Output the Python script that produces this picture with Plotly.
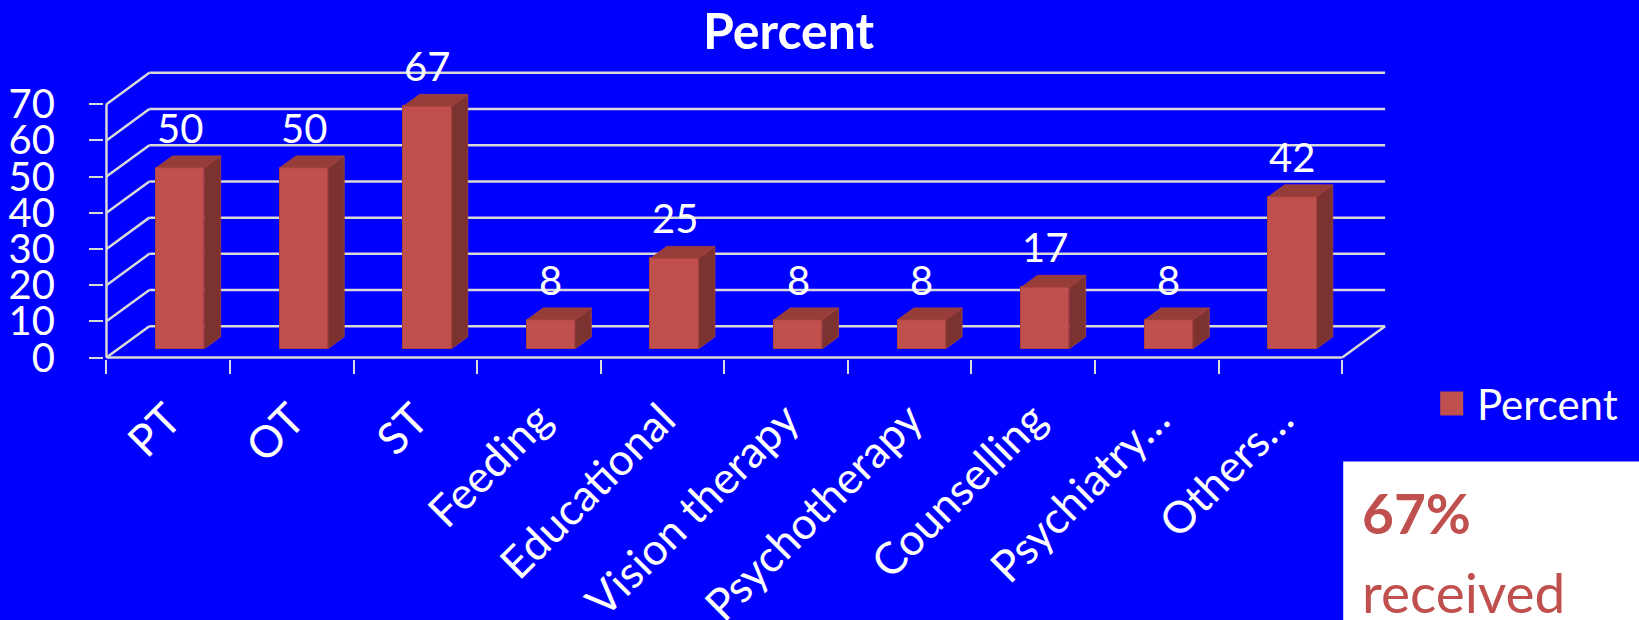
import plotly.graph_objects as go

# ---- data -------------------------------------------------------------
categories = ["PT", "OT", "ST", "Feeding", "Educational", "Vision therapy",
              "Psychotherapy", "Counselling", "Psychiatry…", "Others…"]
values = [50, 50, 67, 8, 25, 8, 8, 17, 8, 42]
y_ticks = [0, 10, 20, 30, 40, 50, 60, 70]
series_name = "Percent"
note_value = "67%"
note_text = "received"

# ---- look -------------------------------------------------------------
FONT = "Lato"
BG = "#0000FF"
GRID = "#D9D9D9"
FRONT = "#C0504D"
SIDE = "#7C3330"
TOP = "#963D3A"
EDGE = "#A8423F"

# oblique projection of the depth axis (category units / value units)
KX = 0.347
KY = 8.66
D0 = 0.28      # depth where the bar front faces sit
DD = 0.38      # bar depth
BAR_W = 0.39

W, H = 1639, 620
SX, SY = 123.6, 3.625          # pixels per category / per value unit
X0_PX, Y0_PX = 106, 358        # pixel position of data origin
XR = [-0.02, 10.5]
YR = [-0.4, 80]
ml = X0_PX + XR[0] * SX
pw = (XR[1] - XR[0]) * SX
mr = W - ml - pw
mt = Y0_PX - YR[1] * SY
mb = H - Y0_PX + YR[0] * SY
ph = H - mt - mb


def px_x(px):
    return (px - ml) / pw


def px_y(py):
    return (H - mb - py) / ph


n = len(categories)
vmax = y_ticks[-1]

# ---- frame: back wall grid, side wall diagonals, floor ----------------
line = dict(color=GRID, width=2.5)
shapes = []
for v in y_ticks:
    shapes.append(dict(type="line", xref="x", yref="y", layer="below",
                       x0=KX, y0=v + KY, x1=n + KX, y1=v + KY, line=line))
    shapes.append(dict(type="line", xref="x", yref="y", layer="below",
                       x0=0, y0=v, x1=KX, y1=v + KY, line=line))
shapes.append(dict(type="line", xref="x", yref="y", layer="below",
                   x0=0, y0=0, x1=n, y1=0, line=line))
shapes.append(dict(type="line", xref="x", yref="y", layer="below",
                   x0=n, y0=0, x1=n + KX, y1=KY, line=line))
shapes.append(dict(type="line", xref="x", yref="y", layer="below",
                   x0=0, y0=0, x1=0, y1=vmax, line=line))

# ---- bars --------------------------------------------------------------
centers = [i + 0.5 + D0 * KX for i in range(n)]
base = D0 * KY
dx, dy = DD * KX, DD * KY

fig = go.Figure()
fig.add_trace(go.Bar(
    x=centers, y=values, base=[base] * n, width=BAR_W, name=series_name,
    marker=dict(color=FRONT, line=dict(color=EDGE, width=1)),
    showlegend=False, hoverinfo="skip"))

side_x, side_y, top_x, top_y = [], [], [], []
for c, v in zip(centers, values):
    xl, xr = c - BAR_W / 2, c + BAR_W / 2
    side_x += [xr, xr + dx, xr + dx, xr, xr, None]
    side_y += [base, base + dy, base + v + dy, base + v, base, None]
    top_x += [xl, xr, xr + dx, xl + dx, xl, None]
    top_y += [base + v, base + v, base + v + dy, base + v + dy, base + v, None]

fig.add_trace(go.Scatter(x=side_x, y=side_y, mode="lines", fill="toself",
                         fillcolor=SIDE, line=dict(color=EDGE, width=0.8),
                         showlegend=False, hoverinfo="skip"))
fig.add_trace(go.Scatter(x=top_x, y=top_y, mode="lines", fill="toself",
                         fillcolor=TOP, line=dict(color=EDGE, width=0.8),
                         showlegend=False, hoverinfo="skip"))

# ---- annotations -------------------------------------------------------
annotations = []
for c, v in zip(centers, values):
    annotations.append(dict(x=c, y=v + base, xref="x", yref="y", text=str(v),
                            showarrow=False, yanchor="bottom", yshift=14,
                            font=dict(family=FONT, size=40, color="white")))

annotations.append(dict(x=px_x(789), y=px_y(30), xref="paper", yref="paper",
                        text="<b>Percent</b>", showarrow=False,
                        xanchor="center", yanchor="middle",
                        font=dict(family=FONT, size=50, color="white")))

# legend
shapes.append(dict(type="rect", xref="paper", yref="paper",
                   x0=px_x(1440), x1=px_x(1463), y0=px_y(416), y1=px_y(392),
                   fillcolor=FRONT, line=dict(width=0)))
annotations.append(dict(x=px_x(1475), y=px_y(405), xref="paper", yref="paper",
                        text=series_name, showarrow=False,
                        xanchor="left", yanchor="middle",
                        font=dict(family=FONT, size=42, color="white")))

# note box
shapes.append(dict(type="rect", xref="paper", yref="paper",
                   x0=px_x(1343), x1=px_x(1650), y0=px_y(630), y1=px_y(462),
                   fillcolor="white", line=dict(width=0)))
annotations.append(dict(x=px_x(1360), y=px_y(514), xref="paper", yref="paper",
                        text=f"<b>{note_value}</b>", showarrow=False,
                        xanchor="left", yanchor="middle",
                        font=dict(family=FONT, size=55, color=FRONT)))
annotations.append(dict(x=px_x(1360), y=px_y(593), xref="paper", yref="paper",
                        text=note_text, showarrow=False,
                        xanchor="left", yanchor="middle",
                        font=dict(family=FONT, size=55, color=FRONT)))

fig.update_layout(
    width=W, height=H,
    margin=dict(l=ml, r=mr, t=mt, b=mb, pad=0, autoexpand=False),
    paper_bgcolor=BG, plot_bgcolor=BG,
    showlegend=False,
    bargap=0,
    shapes=shapes,
    annotations=annotations,
    xaxis=dict(range=XR, showgrid=False, zeroline=False, showline=False,
               automargin=False,
               tickmode="array", tickvals=[i + 0.5 for i in range(n)],
               ticktext=categories, tickangle=-45,
               ticks="outside", ticklen=16, tickcolor="rgba(0,0,0,0)",
               tickfont=dict(family=FONT, size=44, color="white"),
               minor=dict(tickmode="array", tickvals=list(range(n + 1)),
                          ticks="outside", ticklen=14, tickwidth=2,
                          tickcolor=GRID)),
    yaxis=dict(range=YR, showgrid=False, zeroline=False, showline=False,
               automargin=False,
               tickmode="array", tickvals=y_ticks,
               ticks="outside", ticklen=14, tickwidth=2, tickcolor=GRID,
               ticklabelstandoff=26,
               tickfont=dict(family=FONT, size=40, color="white")),
)

fig.write_html("out.html")
